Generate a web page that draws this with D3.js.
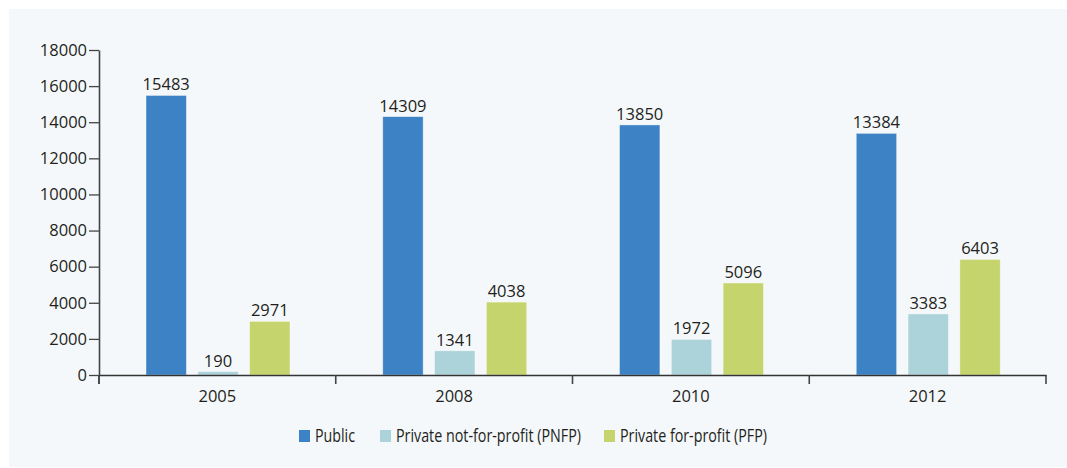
<!DOCTYPE html>
<html><head><meta charset="utf-8">
<script src="https://cdn.jsdelivr.net/npm/d3@7"></script>
<style>
html,body{margin:0;padding:0;background:#fff;}
text{font-family:"Open Sans",sans-serif;fill:#231f20;}
</style></head>
<body>
<svg id="c" width="1067" height="468"></svg>
<script>
const years = ["2005","2008","2010","2012"];
const seriesNames = ["Public","Private not-for-profit (PNFP)","Private for-profit (PFP)"];
const publicVals = [15483,14309,13850,13384];
const pnfpVals = [190,1341,1972,3383];
const pfpVals = [2971,4038,5096,6403];
const yTicks = [0,2000,4000,6000,8000,10000,12000,14000,16000,18000];
const colors = ["#3d82c4","#acd3d9","#c6d46e"];

const series = [publicVals,pnfpVals,pfpVals];
const svg = d3.select("#c");
svg.append("rect").attr("x",9).attr("y",9).attr("width",1058).attr("height",458).attr("fill","#f5f8fa");

const x0 = d3.scaleBand().domain(years).range([99,1046]).paddingInner(0).paddingOuter(0);
const x1 = d3.scaleBand().domain(d3.range(3)).range([47,47+144]).paddingInner(0.22).paddingOuter(0);
const y = d3.scaleLinear().domain([0,18000]).range([375,50]);

// bars
years.forEach((yr,i)=>{
  series.forEach((s,j)=>{
    const v = s[i];
    svg.append("rect")
      .attr("x",x0(yr)+x1(j)).attr("y",y(v))
      .attr("width",x1.bandwidth()).attr("height",y(0)-y(v))
      .attr("fill",colors[j]).attr("stroke","#ffffff").attr("stroke-opacity",0.5).attr("stroke-width",0.8);
    svg.append("text")
      .attr("x",x0(yr)+x1(j)+x1.bandwidth()/2).attr("y",y(v)-5)
      .attr("text-anchor","middle").attr("font-size",16.5).text(v);
  });
});

// y axis
const yAxis = d3.axisLeft(y).tickValues(yTicks).tickSize(10).tickSizeOuter(0).tickPadding(2).tickFormat(d3.format("d"));
const gy = svg.append("g").attr("transform","translate(99,0)").call(yAxis);
gy.selectAll("text").attr("font-size",16.5).attr("font-family","Open Sans").attr("fill","#231f20");
gy.selectAll("line").attr("stroke","#444").attr("stroke-width",1.3);
gy.select(".domain").attr("stroke","#444").attr("stroke-width",1.6);
svg.append("line").attr("x1",99).attr("x2",99).attr("y1",375).attr("y2",384).attr("stroke","#444").attr("stroke-width",1.6);

// x axis
const xAxis = d3.axisBottom(x0).tickSize(0).tickPadding(15);
const gx = svg.append("g").attr("transform","translate(0,375)").call(xAxis);
gx.selectAll("text").attr("font-size",16.5).attr("font-family","Open Sans").attr("fill","#231f20");
gx.select(".domain").attr("stroke","#333").attr("stroke-width",1.6);
const bounds = years.map(d=>x0(d)).concat([x0.range()[1]]);
svg.selectAll(".xt").data(bounds).enter().append("line")
  .attr("x1",d=>d).attr("x2",d=>d).attr("y1",375).attr("y2",384)
  .attr("stroke","#444").attr("stroke-width",1.6);

// legend
const legX = [299,380,604];
const legLen = [40,185,147];
seriesNames.forEach((n,j)=>{
  svg.append("rect").attr("x",legX[j]).attr("y",430).attr("width",11).attr("height",12).attr("fill",colors[j]);
  svg.append("text").attr("x",legX[j]+16).attr("y",442).attr("font-size",18.5)
    .attr("textLength",legLen[j]).attr("lengthAdjust","spacingAndGlyphs").text(n);
});
</script>
</body></html>
